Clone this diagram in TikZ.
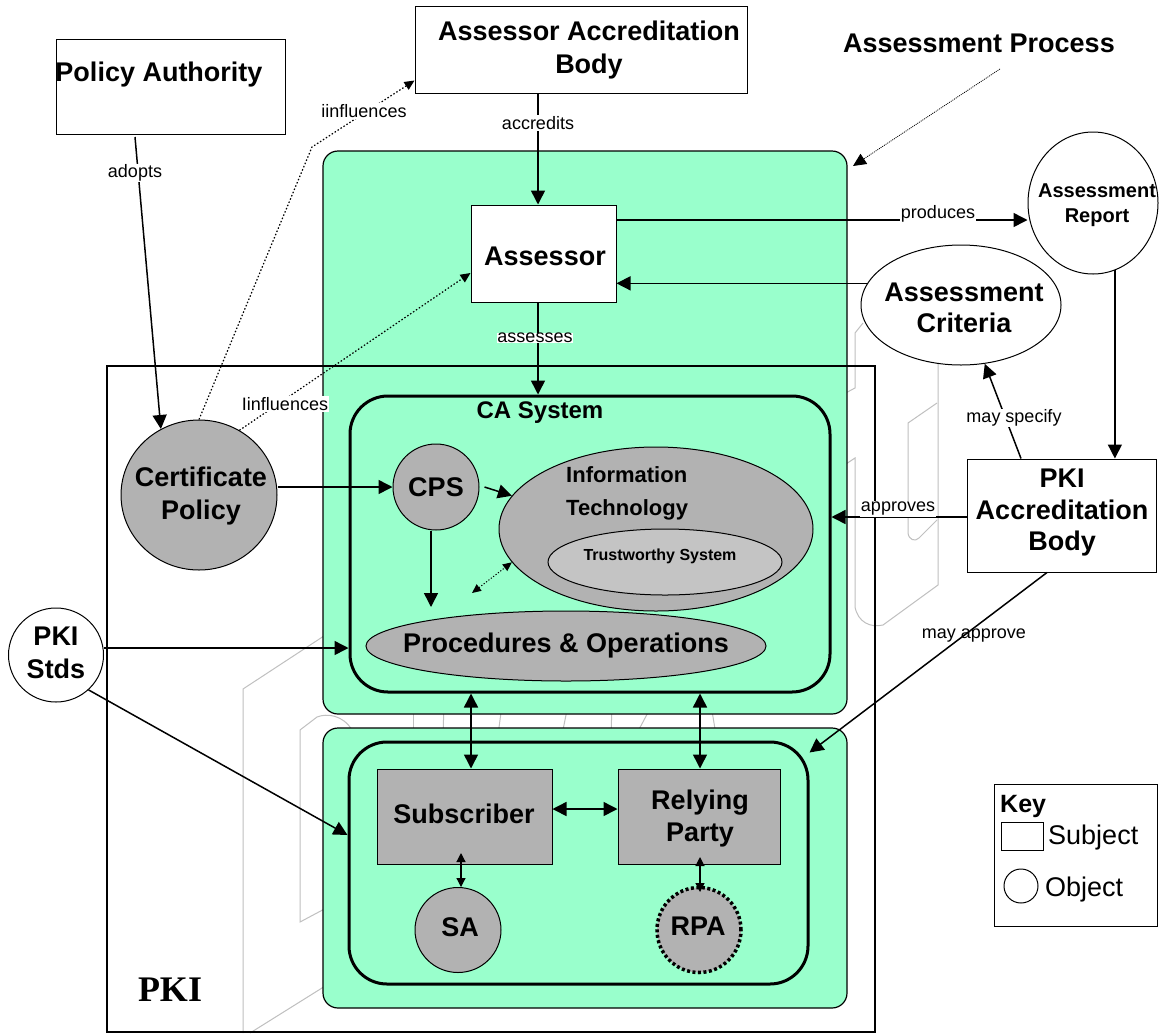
\documentclass[tikz,border=0pt]{standalone}
\usepackage{fontspec}
\setmainfont{Liberation Sans}
\newfontfamily\serifbf{Liberation Serif}
\usetikzlibrary{arrows.meta,shapes.geometric}
\newcommand\myfs[2]{\fontsize{#1}{#2}\selectfont}
\definecolor{pgreen}{RGB}{153,255,204}
\definecolor{pgray}{RGB}{178,178,178}
\definecolor{lgray}{RGB}{196,196,196}
\definecolor{ghost}{RGB}{192,192,192}
\begin{document}
\begin{tikzpicture}[x=1pt,y=-1pt,
  greenbox/.style={rectangle, draw, line width=1.2pt, fill=pgreen, rounded corners=15pt, inner sep=0pt},
  sysbox/.style={rectangle, draw, line width=3pt, rounded corners=38pt, inner sep=0pt},
  subj/.style={rectangle, draw, line width=1pt, fill=white, inner sep=0pt},
  gsubj/.style={rectangle, draw, line width=1pt, fill=pgray, inner sep=0pt},
  gobj/.style={ellipse, draw, line width=1pt, fill=pgray, inner sep=0pt},
  wobj/.style={ellipse, draw, line width=1pt, fill=white, inner sep=0pt},
  big/.style={font=\bfseries\myfs{27}{33}, align=center, inner sep=0pt},
  lbl/.style={font=\myfs{18}{20}, inner sep=1pt},
  arr/.style={line width=1.5pt, -{Triangle[length=14pt,width=14pt]}},
  darr/.style={line width=1.5pt, {Triangle[length=14pt,width=14pt]}-{Triangle[length=14pt,width=14pt]}},
  sdarr/.style={line width=1.2pt, {Triangle[length=9pt,width=9pt]}-{Triangle[length=9pt,width=9pt]}},
  dotarr/.style={line width=1.2pt, dash pattern=on 1.5pt off 2pt, -{Triangle[length=10pt,width=9pt]}},
  sdotdarr/.style={line width=1pt, dash pattern=on 1.2pt off 1.8pt, {Triangle[length=9pt,width=8pt]}-{Triangle[length=9pt,width=8pt]}},
  fdotarr/.style={line width=0.8pt, dash pattern=on 1pt off 1pt, -{Triangle[length=13pt,width=12pt]}},
  ghostline/.style={draw=ghost, line width=1pt}]
\fill[white] (0,0) rectangle (1159,1034);
\useasboundingbox (0,0) rectangle (1159,1034);

% ghost outlines
\draw[ghostline] (243,1033) -- (243,689) -- (330,632);
\draw[ghostline] (250,1033) -- (330,983);
\draw[ghostline] (330,906) -- (300,922) -- (300,730) -- (317,717) .. controls (327,713) and (343,715) .. (352,730);
\draw[ghostline] (863,323) -- (855,333) -- (855,388) -- (840,396);
\draw[ghostline] (840,468) -- (855,458) -- (855,607) .. controls (858,622) and (870,628) .. (883,625) -- (938,585) -- (938,360);
\draw[ghostline] (937,403) -- (908,423) -- (908,533) .. controls (909,540) and (915,542) .. (919,538) -- (937,520);
\draw[ghostline] (413,705) -- (413,735);
\draw[ghostline] (444,705) -- (443,735);
\draw[ghostline] (502,705) -- (498,735);
\draw[ghostline] (568,705) -- (562,735);
\draw[ghostline] (612,705) -- (611,735);
\draw[ghostline] (652,705) -- (636,735);
\draw[ghostline] (711,705) -- (716,735);

% green regions and PKI frame
\node[greenbox, minimum width=524, minimum height=563] (topg) at (585,432.5) {};
\node[greenbox, minimum width=524, minimum height=280] (botg) at (585,868) {};
\node[rectangle, draw, line width=2.5pt, minimum width=768, minimum height=666, inner sep=0pt] (pki) at (491,699) {};
\node[font=\serifbf\bfseries\myfs{36}{40}, inner sep=0pt] (pkiT) at (170,990) {PKI};

% top subjects
\node[subj, minimum width=229, minimum height=95] (pa) at (170.5,86.5) {};
\node[big] (paT) at (159,75) {Policy Authority};
\node[subj, minimum width=332, minimum height=87] (aab) at (581,49.5) {};
\node[big] (aabT) at (589,50) {Assessor Accreditation\\Body};
\node[big] (apT) at (979,43) {Assessment Process};

\node[subj, minimum width=145, minimum height=97] (assessor) at (543.5,253.5) {};
\node[big] (assessorT) at (545,256) {Assessor};

\node[wobj, minimum width=130, minimum height=142] (rep) at (1093,203) {};
\node[font=\bfseries\myfs{20}{25}, align=center, inner sep=0pt] (repT) at (1097,205.5) {Assessment\\Report};
\node[wobj, minimum width=200, minimum height=120] (crit) at (961,305) {};
\node[font=\bfseries\myfs{27}{31}, align=center, inner sep=0pt] (critT) at (964,307.5) {Assessment\\Criteria};

\node[subj, minimum width=189, minimum height=113] (pab) at (1061.5,515.5) {};
\node[font=\bfseries\myfs{27}{31.5}, align=center, inner sep=0pt] (pabT) at (1062,513) {PKI\\Accreditation\\Body};

% CA system
\node[sysbox, minimum width=480, minimum height=296] (ca) at (590,544) {};
\node[font=\bfseries\myfs{24}{28}, inner sep=0pt] (caT) at (540,413) {CA System};
\node[gobj, minimum width=156, minimum height=150] (cp) at (199,495) {};
\node[big] (cpT) at (201,496.5) {Certificate\\Policy};
\node[gobj, minimum width=86, minimum height=86] (cps) at (436,487) {};
\node[big] (cpsT) at (436,487) {CPS};
\node[gobj, minimum width=314, minimum height=164] (it) at (656,529) {};
\node[font=\bfseries\myfs{22}{33}, align=left, anchor=west, inner sep=0pt] (itT) at (566,493.5) {Information\\Technology};
\node[ellipse, draw, line width=1pt, fill=lgray, minimum width=234, minimum height=66, inner sep=0pt] (tw) at (665,562) {};
\node[font=\bfseries\myfs{16}{18}, inner sep=0pt] (twT) at (660,556) {Trustworthy System};
\node[gobj, minimum width=400, minimum height=70] (po) at (566,646) {};
\node[big] (poT) at (566,646) {Procedures \& Operations};

\node[wobj, minimum width=95, minimum height=94] (stds) at (56,655) {};
\node[big] (stdsT) at (56,652.5) {PKI\\Stds};

% lower system
\node[sysbox, minimum width=459, minimum height=242] (inner) at (578.5,863) {};
\node[gsubj, minimum width=175, minimum height=95] (sub) at (464.5,816.5) {};
\node[big] (subT) at (464,814) {Subscriber};
\node[gsubj, minimum width=162, minimum height=95] (rp) at (699,816.5) {};
\node[font=\bfseries\myfs{27}{32}, align=center, inner sep=0pt] (rpT) at (700,819) {Relying\\Party};
\node[gobj, minimum width=86, minimum height=85] (sa) at (458,930) {};
\node[big] (saT) at (460,927) {SA};
\node[ellipse, draw, line width=3.5pt, dash pattern=on 3pt off 2.5pt, fill=pgray, minimum width=84, minimum height=85, inner sep=0pt] (rpa) at (699,930) {};
\node[big] (rpaT) at (698,926) {RPA};

% key
\node[rectangle, draw, line width=1pt, minimum width=163, minimum height=142, inner sep=0pt] (key) at (1075.5,855) {};
\node[font=\bfseries\myfs{25}{28}, anchor=west, inner sep=0pt] (keyT) at (1000,806) {Key};
\node[rectangle, draw, line width=1pt, minimum width=42, minimum height=28, inner sep=0pt] (keyR) at (1022,836) {};
\node[font=\myfs{27}{30}, anchor=west, inner sep=0pt] (keyS) at (1048,838) {Subject};
\node[circle, draw, line width=1pt, minimum size=34, inner sep=0pt] (keyC) at (1021,886) {};
\node[font=\myfs{27}{30}, anchor=west, inner sep=0pt] (keyO) at (1045,890) {Object};

% helper coordinates
\coordinate (h135) at (135,0);
\coordinate (h538) at (538,0);
\coordinate (h1021) at (1021,0);
\coordinate (h1047) at (1047,0);
\coordinate (h431) at (431,0);
\coordinate (h461) at (461,0);
\coordinate (h471) at (471,0);
\coordinate (h700) at (700,0);
\coordinate (v220) at (0,220);
\coordinate (v517) at (0,517);
\coordinate (v648) at (0,648);
\coordinate (v809) at (0,809);
\coordinate (v835) at (0,835);
\coordinate (bend1) at (312,147);
\coordinate (cpsEnd) at (431,607);
\coordinate (ddEnd) at (472,593);
\coordinate (subIn) at (461,853);
\coordinate (rpIn) at (700,857);
\coordinate (rpaIn) at (700,892);
\coordinate (apS) at (1000,69);
\coordinate (apE) at (853,166);
\coordinate (paOut) at (135,137);

% connectors
\draw[arr] (paOut) -- (cp.120);
\node[lbl, fill=white] (adoptsL) at (135,173) {adopts};
\draw[dotarr] (cp.north) -- (bend1) -- ([yshift=13pt]aab.south west);
\node[lbl, fill=white] (infl1) at (364,111) {iinfluences};
\draw[dotarr] (cp.58) -- ([yshift=-19.5pt]assessor.west);
\node[lbl, fill=white] (infl2) at (285,404) {Iinfluences};
\draw[arr] (aab.south -| h538) -- (assessor.north -| h538);
\node[lbl, fill=white] (accL) at (538,123) {accredits};
\draw[arr] (assessor.south -| h538) -- (ca.north -| h538);
\node[lbl, fill=white, inner sep=0.5pt] (assL) at (535,338) {assesses};
\draw[arr] (assessor.east |- v220) -- (rep.west |- v220);
\node[lbl, fill=white] (prodL) at (938,214) {produces};
\draw[arr] (crit.167) -- (assessor.east |- crit.167);
\draw[arr] (rep.-72) -- (pab.north -| rep.-72);
\draw[arr] (pab.north -| h1021) -- (crit.-68);
\node[lbl, fill=white] (specL) at (1014,418) {may specify};
\draw[arr] (pab.west |- v517) -- (ca.east |- v517);
\node[lbl, fill=white] (appL) at (898,509) {approves};
\draw[arr] (pab.south -| h1047) -- ([yshift=-12pt]inner.north east);
\node[lbl] (mayL) at (974,636) {may approve};
\draw[arr] (cp.east |- cps.west) -- (cps.west);
\draw[arr] ([xshift=5pt]cps.east) -- (it.167);
\draw[arr] (cps.south -| cpsEnd) -- (cpsEnd);
\draw[sdotdarr] (ddEnd) -- (it.193);
\draw[arr] (stds.east |- v648) -- (ca.west |- v648);
\draw[arr] (stds.-47) -- (inner.west |- v835);
\draw[darr] (ca.south -| h471) -- (sub.north -| h471);
\draw[darr] (ca.south -| h700) -- (rp.north -| h700);
\draw[darr] (sub.east |- v809) -- (rp.west |- v809);
\draw[sdarr] (subIn) -- (sa.north -| h461);
\draw[sdarr] (rpIn) -- (rpaIn);
\draw[fdotarr] (apS) -- (apE);
\end{tikzpicture}
\end{document}
